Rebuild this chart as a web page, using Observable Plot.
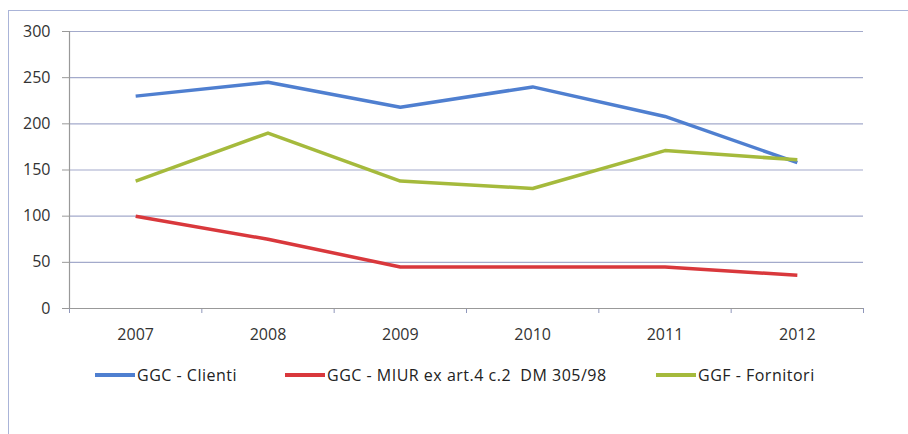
<!DOCTYPE html>
<html>
<head>
<meta charset="utf-8">
<script src="https://cdn.jsdelivr.net/npm/d3@7"></script>
<script src="https://cdn.jsdelivr.net/npm/@observablehq/plot@0.6"></script>
<style>
  html, body { margin: 0; padding: 0; background: #fff; }
  body { width: 908px; height: 434px; position: relative; overflow: hidden; font-family: "Open Sans", sans-serif; }
  #frame { position: absolute; left: 8px; top: 10px; width: 910px; height: 440px; border-left: 1.5px solid #aab4d8; border-top: 1.5px solid #aab4d8; box-sizing: border-box; }
  #chart { position: absolute; left: 0; top: 0; }
  #chart svg text { font-family: "Open Sans", sans-serif !important; font-size: 16px !important; }
  #legend { position: absolute; left: 0; top: 364px; width: 908px; height: 22px; font-size: 16px; color: #222; letter-spacing: 0.5px; }
  .item { position: absolute; top: 0; display: flex; align-items: center; height: 22px; }
  .sw { width: 40px; height: 4px; margin-right: 2px; }
</style>
</head>
<body>
<div id="frame"></div>
<div id="chart"></div>
<div id="legend"></div>
<script>
const years = [2007, 2008, 2009, 2010, 2011, 2012];
const seriesNames = ["GGC - Clienti", "GGC - MIUR ex art.4 c.2  DM 305/98", "GGF - Fornitori"];
const clienti = [230, 245, 218, 240, 208, 158];
const miur = [100, 75, 45, 45, 45, 36];
const fornitori = [138, 190, 138, 130, 171, 161];
const colors = ["#4f7fd0", "#d9383c", "#a5ba3c"];
const yTicks = [0, 50, 100, 150, 200, 250, 300];

const values = [clienti, miur, fornitori];
const data = [];
values.forEach((vals, i) => vals.forEach((v, j) => data.push({series: seriesNames[i], year: years[j], value: v})));
const bounds = [years[0] - 0.5, ...years.map(y => y + 0.5)];

const plot = Plot.plot({
  width: 908,
  height: 345,
  marginTop: 31,
  marginLeft: 69,
  marginRight: 45,
  marginBottom: 37,
  style: {fontFamily: "Open Sans, sans-serif", fontSize: "16px", color: "#333"},
  x: {domain: [bounds[0], bounds[bounds.length - 1]]},
  y: {domain: [0, 300]},
  color: {domain: seriesNames, range: colors},
  marks: [
    Plot.gridY(yTicks, {stroke: "#a3aacb", strokeOpacity: 1, strokeWidth: 1.2}),
    Plot.axisY(yTicks, {tickSize: 7, tickPadding: 12, stroke: "#999", fill: "#333", fontSize: 16, label: null}),
    Plot.axisX(bounds, {tickSize: 5, tickFormat: () => "", stroke: "#8f97bb", label: null}),
    Plot.axisX(years, {tickSize: 0, tickPadding: 20, tickFormat: d => String(d), fill: "#333", fontSize: 16, label: null}),
    Plot.ruleX([bounds[0]], {stroke: "#999", strokeWidth: 1.2}),
    Plot.ruleY([0], {stroke: "#999", strokeWidth: 1.2}),
    Plot.line(data, {x: "year", y: "value", z: "series", stroke: "series", strokeWidth: 3.5, strokeLinejoin: "round", strokeLinecap: "butt"})
  ]
});
document.getElementById("chart").appendChild(plot);

const legend = document.getElementById("legend");
const lefts = [95, 285, 656];
seriesNames.forEach((name, i) => {
  const item = document.createElement("div");
  item.className = "item";
  item.style.left = lefts[i] + "px";
  const sw = document.createElement("div");
  sw.className = "sw";
  sw.style.background = colors[i];
  const t = document.createElement("span");
  t.textContent = name;
  t.style.whiteSpace = "pre";
  item.appendChild(sw);
  item.appendChild(t);
  legend.appendChild(item);
});
</script>
</body>
</html>
